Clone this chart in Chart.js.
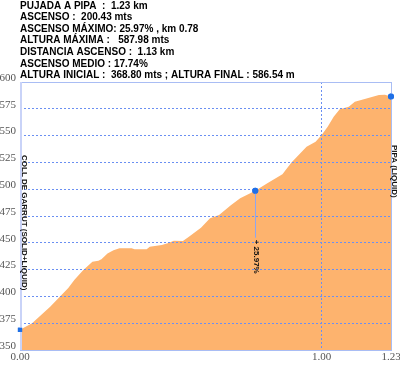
<!DOCTYPE html>
<html>
<head>
<meta charset="utf-8">
<script src="https://cdn.jsdelivr.net/npm/chart.js@4/dist/chart.umd.min.js"></script>
<style>
  html, body { margin:0; padding:0; background:#fff; }
  #wrap { width:400px; height:369px; position:relative; }
</style>
</head>
<body>
<div id="wrap"><canvas id="chart" width="400" height="369"></canvas></div>
<script>
// profile (km, metres)
const distKm = [0.00, 0.04, 0.10, 0.16, 0.18, 0.21, 0.24, 0.26, 0.27, 0.29, 0.31, 0.33, 0.37, 0.38, 0.42, 0.43, 0.47, 0.49, 0.51, 0.54, 0.56, 0.60, 0.63, 0.66, 0.70, 0.73, 0.78, 0.82, 0.87, 0.90, 0.95, 0.98, 1.00, 1.02, 1.04, 1.06, 1.09, 1.11, 1.14, 1.19, 1.21, 1.23];
const elevM  = [368.8, 374.9, 390.4, 407.8, 415.3, 424.6, 432.4, 433.3, 434.6, 440.0, 443.0, 445.0, 445.0, 444.0, 444.0, 446.4, 448.0, 449.5, 452.0, 451.7, 455.7, 464.0, 473.0, 476.0, 485.3, 491.5, 498.6, 505.5, 514.0, 525.0, 539.6, 544.3, 550.6, 558.3, 567.6, 574.5, 577.0, 581.6, 583.9, 587.9, 588.0, 586.54];

const markerKm   = [0.00, 0.78, 1.23];
const markerElev = [368.8, 498.6, 586.54];
const markerShape = ['rect', 'circle', 'circle'];

const xTicks = [0, 1.00, 1.23];
const yMin = 350, yMax = 600, yStep = 25;

const headerLines = [
  'PUJADA A PIPA  :  1.23 km',
  'ASCENSO :  200.43 mts',
  'ASCENSO MÁXIMO: 25.97% , km 0.78',
  'ALTURA MÁXIMA :   587.98 mts',
  'DISTANCIA ASCENSO :  1.13 km',
  'ASCENSO MEDIO : 17.74%',
  'ALTURA INICIAL :  368.80 mts ; ALTURA FINAL : 586.54 m'
];
const startName = 'COLL DE GARRUT (SOLID+LIQUID)';
const endName = 'PIPA (LIQUID)';
const slopeLabel = '+ 25.97%';

const FILL = '#fdb36e';
const GRID = '#6a8ff2';
const FRAME = '#a9bdf4';
const DOT = '#1f6fe6';

const profile = distKm.map((d, i) => ({ x: d, y: elevM[i] }));
const markers = markerKm.map((d, i) => ({ x: d, y: markerElev[i] }));

// header, frame, side names and the max slope note
const extras = {
  id: 'extras',
  afterDraw(chart){
    const ctx = chart.ctx;
    const a = chart.chartArea;
    const xs = chart.scales.x, ys = chart.scales.y;
    ctx.save();

    // frame
    ctx.strokeStyle = FRAME;
    ctx.lineWidth = 1;
    ctx.strokeRect(a.left + 0.5, a.top + 0.5, a.right - a.left, a.bottom - a.top);
    ctx.strokeStyle = '#c9d3f8';
    ctx.lineWidth = 2;
    ctx.beginPath();
    ctx.moveTo(a.left + 1, a.top);
    ctx.lineTo(a.left + 1, a.bottom);
    ctx.stroke();

    // max slope note
    const px = xs.getPixelForValue(markerKm[1]);
    const py = ys.getPixelForValue(markerElev[1]);
    ctx.strokeStyle = '#8ea6ee';
    ctx.lineWidth = 1;
    ctx.beginPath();
    ctx.moveTo(Math.round(px) + 0.5, py);
    ctx.lineTo(Math.round(px) + 0.5, py + 47);
    ctx.stroke();

    ctx.fillStyle = '#111';
    ctx.font = 'bold 8px "Liberation Sans", Arial, sans-serif';
    ctx.textBaseline = 'middle';
    ctx.textAlign = 'left';
    ctx.save();
    ctx.translate(px + 1, py + 49);
    ctx.rotate(Math.PI / 2);
    ctx.fillText(slopeLabel, 0, 0);
    ctx.restore();

    // side names
    ctx.save();
    ctx.translate(a.left + 4, a.top + 73);
    ctx.rotate(Math.PI / 2);
    ctx.fillText(startName, 0, 0);
    ctx.restore();

    ctx.save();
    ctx.translate(a.right + 3, a.top + 63);
    ctx.rotate(Math.PI / 2);
    ctx.fillText(endName, 0, 0);
    ctx.restore();

    // header
    ctx.fillStyle = '#000';
    ctx.font = 'bold 10px "Liberation Sans", Arial, sans-serif';
    headerLines.forEach((t, i) => {
      ctx.fillText(t, 20, 6 + i * 11.55);
    });
    ctx.restore();

    // markers on top of everything
    chart.getDatasetMeta(0).controller.draw();
  }
};

const ctx = document.getElementById('chart').getContext('2d');
new Chart(ctx, {
  type: 'line',
  data: {
    datasets: [
      {
        data: markers,
        showLine: false,
        pointStyle: markerShape,
        pointRadius: [3, 3, 3],
        pointBackgroundColor: DOT,
        pointBorderColor: DOT,
        borderWidth: 0,
        clip: false
      },
      {
        data: profile,
        borderWidth: 0,
        borderColor: FILL,
        backgroundColor: FILL,
        fill: 'start',
        pointRadius: 0,
        tension: 0
      }
    ]
  },
  options: {
    responsive: false,
    animation: false,
    events: [],
    layout: { padding: { top: 82, right: 9, left: 0, bottom: 0 } },
    plugins: { legend: { display: false }, tooltip: { enabled: false } },
    scales: {
      x: {
        type: 'linear',
        min: 0,
        max: 1.23,
        afterBuildTicks(scale){ scale.ticks = xTicks.map(v => ({ value: v })); },
        afterFit(scale){ scale.height = 19; scale.paddingLeft = 0; scale.paddingRight = 0; },
        border: { display: false, dash: [2, 2] },
        grid: {
          z: 1,
          drawTicks: false,
          color: c => (c.tick && c.tick.value === 1 ? GRID : 'transparent'),
          lineWidth: 1
        },
        ticks: {
          padding: 1,
          maxRotation: 0,
          autoSkip: false,
          color: '#555',
          font: { family: '"Liberation Serif", "Times New Roman", serif', size: 11 },
          callback: v => Number(v).toFixed(2)
        }
      },
      y: {
        min: yMin,
        max: yMax,
        afterFit(scale){ scale.width = 20; },
        border: { display: false, dash: [2, 2] },
        grid: {
          z: 1,
          drawTicks: false,
          color: c => (c.tick && (c.tick.value === yMin || c.tick.value === yMax) ? 'transparent' : GRID),
          lineWidth: 1
        },
        ticks: {
          stepSize: yStep,
          padding: 4,
          labelOffset: -4,
          color: '#555',
          font: { family: '"Liberation Serif", "Times New Roman", serif', size: 11 }
        }
      }
    }
  },
  plugins: [extras]
});
</script>
</body>
</html>
